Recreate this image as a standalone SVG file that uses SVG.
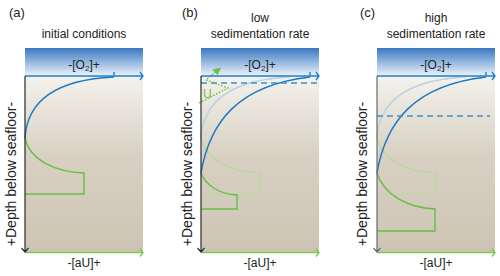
<svg xmlns="http://www.w3.org/2000/svg" width="500" height="276" viewBox="0 0 500 276">
<defs>
<linearGradient id="water" x1="0" y1="0" x2="0" y2="1">
<stop offset="0" stop-color="#3b77c1"/>
<stop offset="0.55" stop-color="#9dbde3"/>
<stop offset="1" stop-color="#eef3fa"/>
</linearGradient>
<linearGradient id="sed" x1="0" y1="0" x2="0" y2="1">
<stop offset="0" stop-color="#f4f2ec"/>
<stop offset="0.45" stop-color="#d8d1c3"/>
<stop offset="1" stop-color="#cdc4b3"/>
</linearGradient>
<marker id="dotArrow" markerWidth="8" markerHeight="8" refX="4" refY="4" orient="auto" markerUnits="userSpaceOnUse">
<path d="M0,0 L8,4 L0,8 Z" fill="#6cc04a"/>
</marker>
</defs>
<style>
text{font-family:"Liberation Sans",Arial,sans-serif;fill:#222;}
.hd{font-size:12px;text-anchor:middle;}
.lab{font-size:13px;}
.ax{font-size:12px;text-anchor:middle;}
.dep{font-size:14px;text-anchor:middle;}
.blue{fill:none;stroke:#1b78c6;stroke-width:1.4;}
.fblue{fill:none;stroke:#b9d0e2;stroke-width:1.3;}
.green{fill:none;stroke:#66bf45;stroke-width:1.4;}
.fgreen{fill:none;stroke:#bcd69c;stroke-width:1.2;}
.dash{fill:none;stroke:#3b8fd1;stroke-width:1.6;stroke-dasharray:6 4;}
.vax{fill:none;stroke:#2a2a2a;stroke-width:1.2;}
.gax{fill:none;stroke:#7ccb5b;stroke-width:1.5;}
.bax{fill:none;stroke:#1b80d0;stroke-width:1.4;}
.dot{fill:none;stroke:#6cc04a;stroke-width:1.4;stroke-dasharray:1.6 1.6;}
</style>

<g id="panel-a">
<text class="lab" x="9" y="17">(a)</text>
<text class="hd" x="84" y="38">initial conditions</text>
<rect x="25" y="48" width="118" height="28" fill="url(#water)"/>
<rect x="25" y="76" width="118" height="176" fill="url(#sed)"/>
<text class="ax" x="84" y="69">-[O<tspan font-size="8" dy="2">2</tspan><tspan dy="-2">]+</tspan></text>
<path class="green" d="M25,138 C30,160 55,172 84,173 L84,194 L25,194"/>
<path class="blue" d="M25,138 C27,105 50,80 114,77"/>
<path class="bax" d="M25,76 L143,76 M140,72 L143,76 L140,80 M114,72 L114,76"/>
<path class="gax" d="M25,252.5 L143,252.5 M140,248.5 L143,252.5 L140,256.5"/>
<path class="vax" d="M25,76 L25,252 M21.5,248 L25,252 L28.5,248"/>
<text class="dep" transform="translate(16,174) rotate(-90)">+Depth below seafloor-</text>
<text class="ax" x="84" y="267">-[aU]+</text>
</g>

<g id="panel-b">
<text class="lab" x="182" y="17">(b)</text>
<text class="hd" x="260" y="22">low</text>
<text class="hd" x="260" y="38">sedimentation rate</text>
<rect x="201" y="48" width="118" height="28" fill="url(#water)"/>
<rect x="201" y="76" width="118" height="176" fill="url(#sed)"/>
<text class="ax" x="260" y="69">-[O<tspan font-size="8" dy="2">2</tspan><tspan dy="-2">]+</tspan></text>
<path class="fgreen" d="M201,138 C206,160 231,172 260,173 L260,194 L201,194"/>
<path class="fblue" d="M201,138 C203,105 226,80 290,77"/>
<path class="green" d="M201,173 C206,186 220,194 237,195 L237,209 L201,209"/>
<path class="blue" d="M201,173 C210,120 240,85 310,77"/>
<path class="dash" d="M201,83 L319,83"/>
<path class="dot" d="M199,103 L228,88 L206,80 L218,70" marker-end="url(#dotArrow)"/>
<text x="203" y="98" font-size="12" style="fill:#6cc04a">U</text>
<path class="bax" d="M201,76 L319,76 M316,72 L319,76 L316,80 M310,72 L310,76"/>
<path class="gax" d="M201,252.5 L319,252.5 M316,248.5 L319,252.5 L316,256.5"/>
<path class="vax" d="M201,76 L201,252 M197.5,248 L201,252 L204.5,248"/>
<text class="dep" transform="translate(192,174) rotate(-90)">+Depth below seafloor-</text>
<text class="ax" x="260" y="267">-[aU]+</text>
</g>

<g id="panel-c">
<text class="lab" x="360" y="17">(c)</text>
<text class="hd" x="436" y="22">high</text>
<text class="hd" x="436" y="38">sedimentation rate</text>
<rect x="377" y="48" width="118" height="28" fill="url(#water)"/>
<rect x="377" y="76" width="118" height="176" fill="url(#sed)"/>
<text class="ax" x="436" y="69">-[O<tspan font-size="8" dy="2">2</tspan><tspan dy="-2">]+</tspan></text>
<path class="fgreen" d="M377,138 C382,160 407,172 436,173 L436,194 L377,194"/>
<path class="fblue" d="M377,138 C379,105 402,80 466,77"/>
<path class="green" d="M377,173 C384,195 408,208 435,209 L435,231 L377,231"/>
<path class="blue" d="M377,173 C386,120 416,85 486,77"/>
<path class="dash" d="M377,116 L490,116"/>
<path class="bax" d="M377,76 L495,76 M492,72 L495,76 L492,80 M486,72 L486,76"/>
<path class="gax" d="M377,252.5 L495,252.5 M492,248.5 L495,252.5 L492,256.5"/>
<path class="vax" style="stroke:#6a6a6a" d="M377,76 L377,252 M373.5,248 L377,252 L380.5,248"/>
<text class="dep" transform="translate(367,174) rotate(-90)">+Depth below seafloor-</text>
<text class="ax" x="436" y="267">-[aU]+</text>
</g>
</svg>
